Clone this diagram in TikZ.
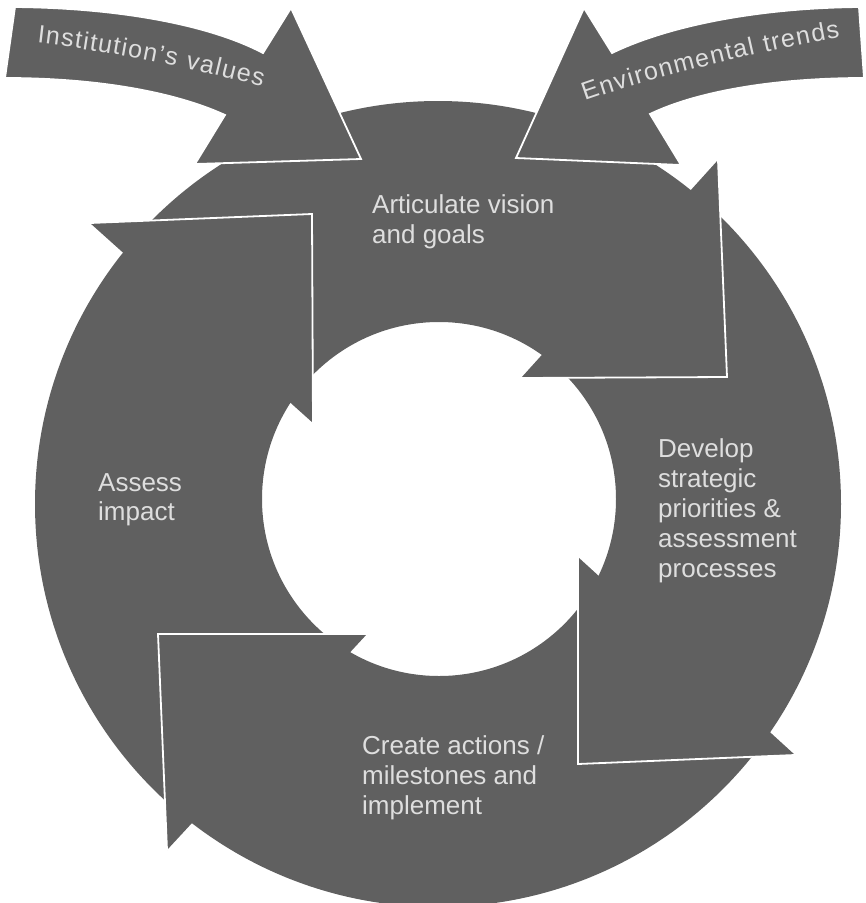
\documentclass[tikz,border=0pt]{standalone}
\usepackage{fontspec}
\setmainfont{Liberation Sans}
\usetikzlibrary{decorations.text}
\definecolor{ringgray}{RGB}{96,96,96}
\definecolor{labelgray}{RGB}{222,222,222}
\begin{document}
\begin{tikzpicture}[x=1pt,y=-1pt,
  sepline/.style={draw=white,line width=1.8pt,line join=miter},
  bandarrow/.style={fill=ringgray,draw=white,line width=1.8pt,line join=miter},
  lbl/.style={anchor=base west,inner sep=0pt,text=labelgray,font=\fontsize{26}{30}\selectfont},
]
\useasboundingbox (0,0) rectangle (866,903);

% ring
\fill[ringgray,even odd rule] (438,504) circle[radius=403pt] (439,499) circle[radius=177pt];

% arrowhead corners in the ring
\coordinate (trB1) at (718,160); \coordinate (trP) at (727,377); \coordinate (trB2) at (521,378);
\coordinate (tlB1) at (90,223);  \coordinate (tlP) at (312,214); \coordinate (tlB2) at (313,423);
\coordinate (brB1) at (578,557); \coordinate (brP) at (578,764); \coordinate (brB2) at (795,755);
\coordinate (blB1) at (167,850); \coordinate (blP) at (158,634); \coordinate (blB2) at (367,634);

\foreach \h in {tr,tl,br,bl}{
  \fill[ringgray] (\h B1) -- (\h P) -- (\h B2) -- cycle;
  \draw[sepline] (\h B1) -- (\h P) -- (\h B2);
}

% Institution's values arrow
\filldraw[bandarrow] (5,78) -- (15,7) .. controls (120,8) and (210,25) .. (263,53)
  -- (291,8) -- (361,159) -- (195,164) -- (225,115)
  .. controls (170,90) and (90,78) .. (5,78) -- cycle;
% Environmental trends arrow
\filldraw[bandarrow] (864,78) -- (859,7) .. controls (760,8) and (670,25) .. (612,53)
  -- (584,8) -- (516,158) -- (681,165) -- (650,114)
  .. controls (700,90) and (780,78) .. (864,78) -- cycle;

% curved labels
\path[decorate,decoration={text along path,
   text={|\fontsize{25}{25}\selectfont|Institution’s values},
   text align={fit to path},text color=labelgray}]
  (37,43) .. controls (100,50) and (190,67) .. (262,87);
\path[decorate,decoration={text along path,
   text={|\fontsize{25}{25}\selectfont|Environmental trends},
   text align={fit to path},text color=labelgray}]
  (585,101) .. controls (640,81) and (760,51) .. (840,37);

% ring labels
\node[lbl] (av1) at (372,213) {Articulate vision};
\node[lbl] (av2) at (372,243) {and goals};
\node[lbl] (dv1) at (658,457) {Develop};
\node[lbl] (dv2) at (658,487) {strategic};
\node[lbl] (dv3) at (658,517) {priorities \&};
\node[lbl] (dv4) at (658,547) {assessment};
\node[lbl] (dv5) at (658,577) {processes};
\node[lbl] (as1) at (98,491) {Assess};
\node[lbl] (as2) at (98,520) {impact};
\node[lbl] (cr1) at (362,754) {Create actions /};
\node[lbl] (cr2) at (362,784) {milestones and};
\node[lbl] (cr3) at (362,814) {implement};
\end{tikzpicture}
\end{document}
